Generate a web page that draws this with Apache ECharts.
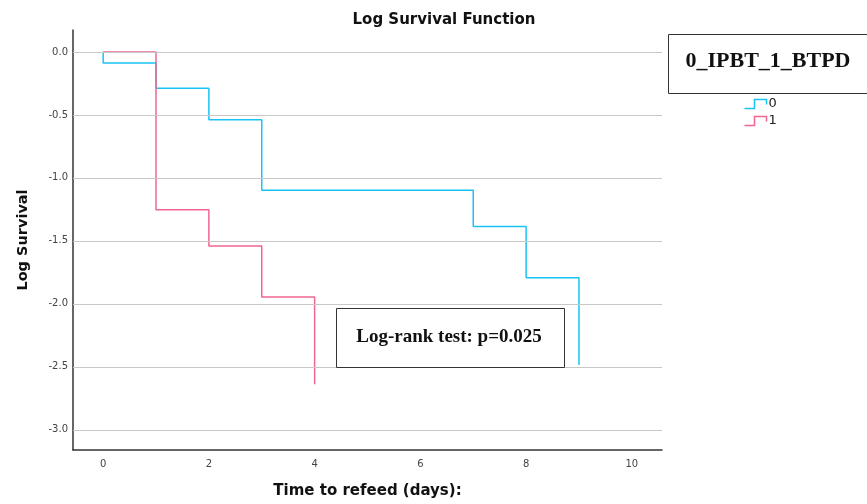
<!DOCTYPE html>
<html><head><meta charset="utf-8">
<script src="https://cdn.jsdelivr.net/npm/echarts@6/dist/echarts.min.js"></script>
<style>html,body{margin:0;padding:0;background:#fff}#c{width:867px;height:504px}</style>
</head><body><div id="c"></div>
<script>
// Data (log survival estimates, step function)
const group0Time = [0, 0, 1, 2, 3, 7, 8, 9];
const group0LogSurv = [0, -0.087, -0.288, -0.539, -1.099, -1.386, -1.792, -2.485];
const group1Time = [0, 1, 2, 3, 4];
const group1LogSurv = [0, -1.253, -1.540, -1.946, -2.639];
const xTicks = [0, 2, 4, 6, 8, 10];
const yTicks = [0, -0.5, -1.0, -1.5, -2.0, -2.5, -3.0];
const seriesNames = ['0', '1'];

const blue = '#19c3f3';
const pink = '#f0668f';
const stepIcon = 'path://M0,10 L10,10 L10,1 L22,1 L22,6';

const chart = echarts.init(document.getElementById('c'));
chart.setOption({
  animation: false,
  title: {
    text: 'Log Survival Function', left: 439, textAlign: 'center', top: 8,
    textStyle: { fontFamily: 'DejaVu Sans', fontWeight: 'bold', fontSize: 15, color: '#111' }
  },
  grid: { left: 73, right: 205, top: 30, bottom: 52 },
  legend: {
    orient: 'vertical', left: 737, top: 92, itemWidth: 24, itemHeight: 9, itemGap: 3,
    textStyle: { fontFamily: 'DejaVu Sans', fontSize: 13, color: '#222', padding: [0,0,0,-4], lineHeight: 12 },
    data: [
      { name: seriesNames[0], icon: stepIcon, itemStyle: { color: 'none', borderColor: blue, borderWidth: 1.5 } },
      { name: seriesNames[1], icon: stepIcon, itemStyle: { color: 'none', borderColor: pink, borderWidth: 1.5 } }
    ]
  },
  xAxis: {
    type: 'value', min: -0.57, max: 10.57,
    name: 'Time to refeed (days):', nameLocation: 'middle', nameGap: 34,
    nameTextStyle: { fontFamily: 'DejaVu Sans', fontWeight: 'bold', fontSize: 15, color: '#111' },
    axisLine: { onZero: false, lineStyle: { color: '#333', width: 1.5 } },
    axisTick: { show: false },
    splitLine: { show: false },
    axisLabel: {
      fontFamily: 'DejaVu Sans', fontSize: 10, color: '#444', margin: 9,
      customValues: xTicks, formatter: v => String(v)
    }
  },
  yAxis: {
    type: 'value', min: -3.16, max: 0.174,
    name: 'Log Survival', nameLocation: 'middle', nameGap: 42, nameRotate: 90,
    nameTextStyle: { fontFamily: 'DejaVu Sans', fontWeight: 'bold', fontSize: 14.5, color: '#111' },
    axisLine: { show: true, onZero: false, lineStyle: { color: '#333', width: 1.5 } },
    axisTick: { show: false },
    axisLabel: {
      fontFamily: 'DejaVu Sans', fontSize: 10, color: '#444', margin: 5,
      customValues: yTicks, formatter: v => v.toFixed(1)
    },
    splitLine: { show: false }
  },
  series: [
    {
      name: 'grid', type: 'line', silent: true, symbol: 'none', data: [],
      markLine: {
        silent: true, symbol: 'none', label: { show: false },
        lineStyle: { color: '#c8c8c8', width: 1.2, type: 'solid' },
        data: yTicks.map(v => ({ yAxis: v }))
      },
      z: 1
    },
    {
      name: seriesNames[0], type: 'line', step: 'end', symbol: 'none', z: 3,
      lineStyle: { color: blue, width: 1.5 }, itemStyle: { color: blue },
      data: group0Time.map((t, i) => [t, group0LogSurv[i]])
    },
    {
      name: seriesNames[1], type: 'line', step: 'end', symbol: 'none', z: 3,
      lineStyle: { color: pink, width: 1.5 }, itemStyle: { color: pink },
      data: group1Time.map((t, i) => [t, group1LogSurv[i]])
    }
  ],
  graphic: [
    {
      type: 'rect', left: 668, top: 34, z: 100,
      shape: { width: 200, height: 59 },
      style: { fill: '#fff', stroke: '#333', lineWidth: 1 }
    },
    {
      type: 'text', x: 768, y: 61, z: 101,
      style: { text: '0_IPBT_1_BTPD', font: 'bold 22px "Liberation Serif"', fill: '#111', align: 'center', verticalAlign: 'middle' }
    },
    {
      type: 'rect', left: 336, top: 308, z: 100,
      shape: { width: 228, height: 59 },
      style: { fill: '#fff', stroke: '#333', lineWidth: 1 }
    },
    {
      type: 'text', x: 449, y: 337, z: 101,
      style: { text: 'Log-rank test: p=0.025', font: 'bold 19px "Liberation Serif"', fill: '#111', align: 'center', verticalAlign: 'middle' }
    }
  ]
});
</script>
</body></html>
